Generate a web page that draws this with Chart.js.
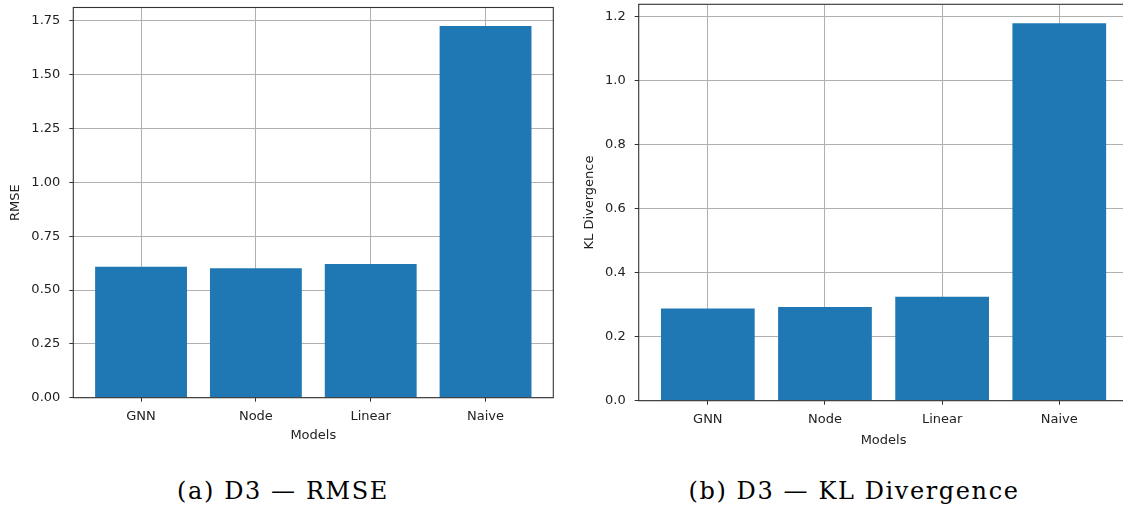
<!DOCTYPE html>
<html>
<head>
<meta charset="utf-8">
<script src="https://cdn.jsdelivr.net/npm/chart.js@4.4.1/dist/chart.umd.min.js"></script>
<style>
  html, body { margin: 0; padding: 0; background: #fff; overflow: hidden; }
  body { width: 1123px; height: 512px; position: relative; }
  .panel { position: absolute; top: 0; }
  .caption {
    position: absolute; top: 477px; font-family: "DejaVu Serif", serif;
    font-size: 24px; color: #000; white-space: nowrap; transform: translateX(-50%);
    letter-spacing: 1.6px;
  }
</style>
</head>
<body>
<div class="panel" style="left:0px;width:560px;height:460px"><canvas id="rmse"></canvas></div>
<div class="panel" style="left:560px;width:575px;height:460px"><canvas id="kl"></canvas></div>
<div class="caption" style="left:283px">(a) D3 — RMSE</div>
<div class="caption" style="left:854px">(b) D3 — KL Divergence</div>
<script>
// Models compared in both panels
const models = ["GNN", "Node", "Linear", "Naive"];
// D3 RMSE per model
const rmseValues = [0.608, 0.601, 0.621, 1.726];
// D3 KL divergence per model
const klValues = [0.288, 0.292, 0.324, 1.178];
// y-axis tick values
const rmseTicks = [0, 0.25, 0.5, 0.75, 1.0, 1.25, 1.5, 1.75];
const klTicks = [0, 0.2, 0.4, 0.6, 0.8, 1.0, 1.2];

Chart.defaults.font.family = "'DejaVu Sans', sans-serif";
Chart.defaults.font.size = 13;
Chart.defaults.color = "#222";
Chart.defaults.animation = false;

// Full rectangular frame around the plot area
const framePlugin = {
  id: "frame",
  afterDraw(chart) {
    const a = chart.chartArea, c = chart.ctx;
    c.save();
    c.strokeStyle = "#333";
    c.lineWidth = 1.1;
    c.strokeRect(a.left, a.top, a.right - a.left, a.bottom - a.top);
    c.restore();
  }
};

function noLabelPadding(s) {
  s.paddingTop = 0; s.paddingBottom = 0; s.paddingLeft = 0; s.paddingRight = 0;
}

function makeChart(id, values, ticks, decimals, yTitle, opts) {
  const span = models.length - 1;
  const pad = 0.4 + 0.05 * (span + 0.8);
  const yMax = Math.max(...values) * 1.05;
  return new Chart(document.getElementById(id), {
    type: "bar",
    data: {
      datasets: [{
        data: values.map((v, i) => ({ x: i, y: v })),
        backgroundColor: "#1f77b4",
        borderWidth: 0,
        categoryPercentage: 0.8,
        barPercentage: 1.0
      }]
    },
    options: {
      responsive: true,
      maintainAspectRatio: false,
      layout: { padding: opts.padding },
      plugins: { legend: { display: false }, tooltip: { enabled: false } },
      scales: {
        x: {
          type: "linear",
          offset: false,
          min: -pad,
          max: span + pad,
          z: 1,
          afterBuildTicks: s => { s.ticks = models.map((_, i) => ({ value: i })); },
          afterFit: s => { s.height = opts.xHeight; noLabelPadding(s); },
          ticks: {
            callback: v => models[v],
            padding: opts.xTickPad,
            maxRotation: 0,
            autoSkip: false
          },
          grid: { offset: false, color: "#b0b0b0", lineWidth: 1, tickColor: "#333", tickLength: 4 },
          border: { display: false },
          title: { display: true, text: "Models", padding: { top: 0, bottom: 0 } }
        },
        y: {
          min: 0,
          max: yMax,
          z: 1,
          afterBuildTicks: s => { s.ticks = ticks.map(v => ({ value: v })); },
          afterFit: s => { s.width = opts.yWidth; noLabelPadding(s); },
          ticks: {
            callback: v => Number(v).toFixed(decimals),
            padding: 9
          },
          grid: { color: "#b0b0b0", lineWidth: 1, tickColor: "#333", tickLength: 4 },
          border: { display: false },
          title: { display: true, text: yTitle, padding: opts.yTitlePad }
        }
      }
    },
    plugins: [framePlugin]
  });
}

makeChart("rmse", rmseValues, rmseTicks, 2, "RMSE", {
  padding: { left: 0, top: 7.5, right: 6.7, bottom: 17 },
  xHeight: 45.3,
  yWidth: 73.3,
  xTickPad: 7,
  yTitlePad: { top: 8, bottom: 0 }
});

makeChart("kl", klValues, klTicks, 1, "KL Divergence", {
  padding: { left: 0, top: 4.3, right: 6.6, bottom: 12 },
  xHeight: 47.3,
  yWidth: 78.7,
  xTickPad: 7,
  yTitlePad: { top: 22, bottom: 0 }
});
</script>
</body>
</html>
